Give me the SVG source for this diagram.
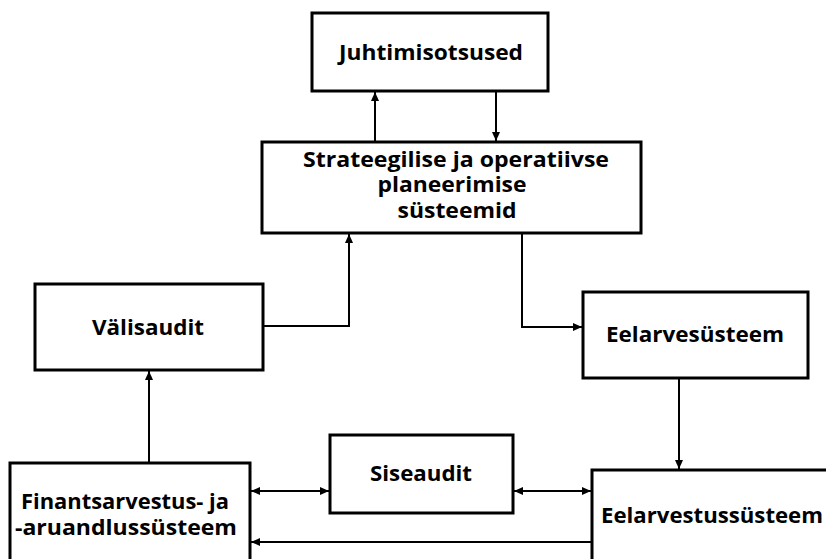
<svg xmlns="http://www.w3.org/2000/svg" width="826" height="559" viewBox="0 0 826 559">
  <style>
    .box { fill: #fff; stroke: #000; stroke-width: 3; }
    .lbl { font-family: "Open Sans", "Noto Sans", "Liberation Sans", sans-serif; font-weight: bold; font-size: 20.5px; fill: #000; text-anchor: middle; }
    .con { fill: none; stroke: #000; stroke-width: 2; }
  </style>
  <defs>
    <marker id="arrowEnd" markerUnits="userSpaceOnUse" markerWidth="10" markerHeight="10" viewBox="0 0 10 10" refX="9" refY="5" orient="auto">
      <path d="M0,1 L9,5 L0,9 Z" fill="#000"/>
    </marker>
    <marker id="arrowStart" markerUnits="userSpaceOnUse" markerWidth="10" markerHeight="10" viewBox="0 0 10 10" refX="1" refY="5" orient="auto">
      <path d="M10,1 L1,5 L10,9 Z" fill="#000"/>
    </marker>
  </defs>
  <rect width="826" height="559" fill="#fff"/>

  <g id="connectors">
    <path class="con" d="M375 141 V92" marker-end="url(#arrowEnd)"/>
    <path class="con" d="M496 92 V141" marker-end="url(#arrowEnd)"/>
    <path class="con" d="M263 326 H349 V234" marker-end="url(#arrowEnd)"/>
    <path class="con" d="M522 234 V327 H582" marker-end="url(#arrowEnd)"/>
    <path class="con" d="M679 378 V469" marker-end="url(#arrowEnd)"/>
    <path class="con" d="M149 462 V371" marker-end="url(#arrowEnd)"/>
    <path class="con" d="M251 491 H329" marker-start="url(#arrowStart)" marker-end="url(#arrowEnd)"/>
    <path class="con" d="M514 491 H591" marker-start="url(#arrowStart)" marker-end="url(#arrowEnd)"/>
    <path class="con" d="M591 542 H251" marker-end="url(#arrowEnd)"/>
  </g>

  <g id="juhtimisotsused">
    <rect class="box" x="312" y="13" width="236" height="78"/>
    <text class="lbl" x="431" y="60" textLength="184" lengthAdjust="spacingAndGlyphs">Juhtimisotsused</text>
  </g>

  <g id="planeerimine">
    <rect class="box" x="262" y="142" width="379" height="91"/>
    <text class="lbl" x="456" y="167" textLength="306" lengthAdjust="spacingAndGlyphs">Strateegilise ja operatiivse</text>
    <text class="lbl" x="452" y="192" textLength="149" lengthAdjust="spacingAndGlyphs">planeerimise</text>
    <text class="lbl" x="457" y="218" textLength="119" lengthAdjust="spacingAndGlyphs">süsteemid</text>
  </g>

  <g id="valisaudit">
    <rect class="box" x="35" y="284" width="228" height="86"/>
    <text class="lbl" x="148" y="335" textLength="112" lengthAdjust="spacingAndGlyphs">Välisaudit</text>
  </g>

  <g id="eelarvesusteem">
    <rect class="box" x="583" y="292" width="225" height="86"/>
    <text class="lbl" x="695" y="342" textLength="178" lengthAdjust="spacingAndGlyphs">Eelarvesüsteem</text>
  </g>

  <g id="siseaudit">
    <rect class="box" x="330" y="435" width="183" height="78"/>
    <text class="lbl" x="421" y="481" textLength="102" lengthAdjust="spacingAndGlyphs">Siseaudit</text>
  </g>

  <g id="finantsarvestus">
    <rect class="box" x="10" y="463" width="240" height="110"/>
    <text class="lbl" x="125" y="509" textLength="208" lengthAdjust="spacingAndGlyphs">Finantsarvestus- ja</text>
    <text class="lbl" x="126" y="535" textLength="222" lengthAdjust="spacingAndGlyphs">-aruandlussüsteem</text>
  </g>

  <g id="eelarvestus">
    <rect class="box" x="592" y="470" width="250" height="100"/>
    <text class="lbl" x="712" y="523" textLength="222" lengthAdjust="spacingAndGlyphs">Eelarvestussüsteem</text>
  </g>
</svg>
